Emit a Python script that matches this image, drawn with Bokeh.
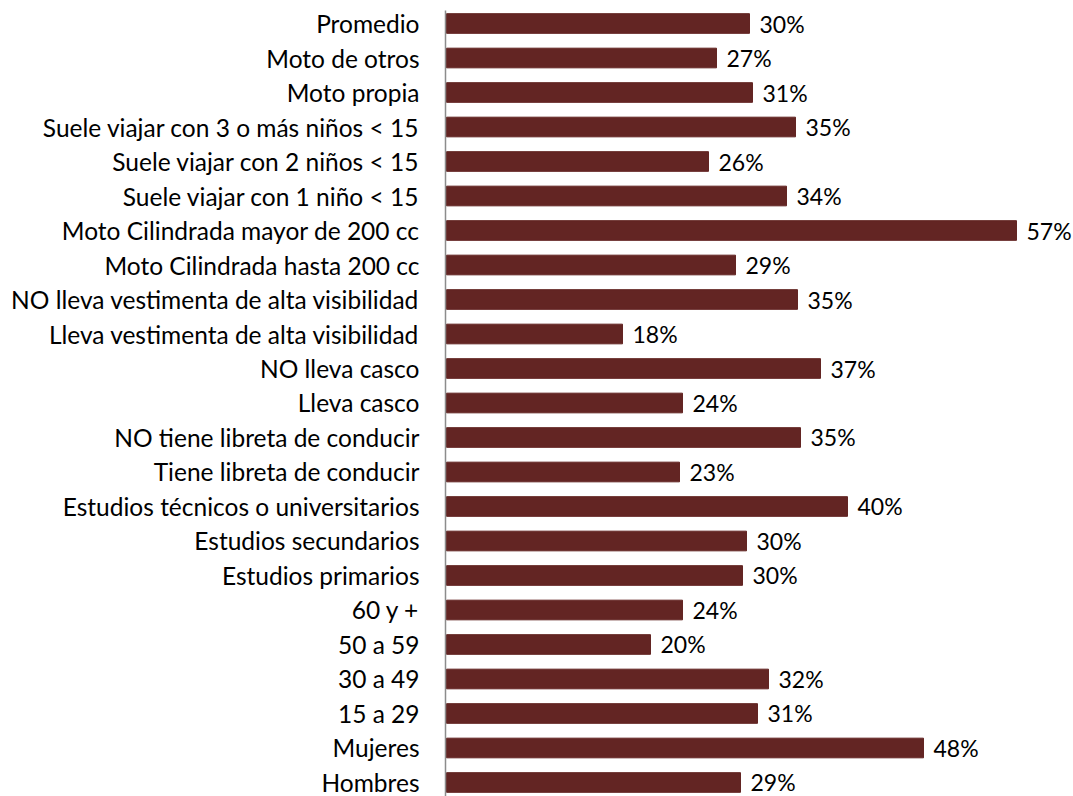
from bokeh.plotting import figure
from bokeh.models import ColumnDataSource, FixedTicker, Range1d
from bokeh.core.properties import value
from bokeh.embed import file_html
from bokeh.resources import INLINE

categories = [
    "Promedio", "Moto de otros", "Moto propia",
    "Suele viajar con 3 o más niños < 15", "Suele viajar con 2 niños < 15",
    "Suele viajar con 1 niño < 15", "Moto Cilindrada mayor de 200 cc",
    "Moto Cilindrada hasta 200 cc", "NO lleva vestimenta de alta visibilidad",
    "Lleva vestimenta de alta visibilidad", "NO lleva casco", "Lleva casco",
    "NO tiene libreta de conducir", "Tiene libreta de conducir",
    "Estudios técnicos o universitarios", "Estudios secundarios",
    "Estudios primarios", "60 y +", "50 a 59", "30 a 49", "15 a 29",
    "Mujeres", "Hombres",
]
values = [30.3, 27.0, 30.6, 34.9, 26.2, 34.0, 57.0, 28.9, 35.1, 17.6, 37.4,
          23.6, 35.4, 23.3, 40.1, 30.0, 29.6, 23.6, 20.4, 32.2, 31.1, 47.7, 29.4]
labels = [f"{round(v)}%" for v in values]

n = len(categories)
ypos = [n - 1 - i for i in range(n)]

src = ColumnDataSource(dict(y=ypos, v=values, lab=labels, cat=categories))

FONT = "Lato"

W, H = 1073, 796
LEFT = 445
TOP = 10
PX_PER_UNIT_X = 10.0

x_end = -0.1 + (W - LEFT) / PX_PER_UNIT_X
p = figure(width=W, height=H, output_backend="svg", toolbar_location=None,
           x_range=Range1d(-0.1, x_end), y_range=Range1d(-0.406, n - 1 + 0.377),
           min_border_left=LEFT, min_border_right=0, min_border_top=TOP,
           min_border_bottom=0, x_axis_location=None)
p.outline_line_color = None
p.xgrid.visible = False
p.ygrid.visible = False
p.background_fill_color = "white"

p.hbar(y="y", right="v", left=0, height=0.57, source=src,
       fill_color="#632523", line_color="#632523")
p.text(x="v", y="y", text="lab", source=src, x_offset=10,
       text_baseline="middle", text_align="left",
       text_font=value(FONT), text_font_size="23px", text_color="black")

ax = p.yaxis[0]
ax.ticker = FixedTicker(ticks=ypos)
ax.major_label_overrides = {y: c for y, c in zip(ypos, categories)}
ax.major_tick_line_color = None
ax.minor_tick_line_color = None
ax.major_tick_out = 0
ax.major_tick_in = 0
ax.major_label_standoff = 26
ax.axis_line_color = "#8c8c8c"
ax.axis_line_width = 1.5
ax.major_label_text_font = FONT
ax.major_label_text_font_size = "24.5px"
ax.major_label_text_color = "black"

open("out.html", "w").write(file_html(p, INLINE))
